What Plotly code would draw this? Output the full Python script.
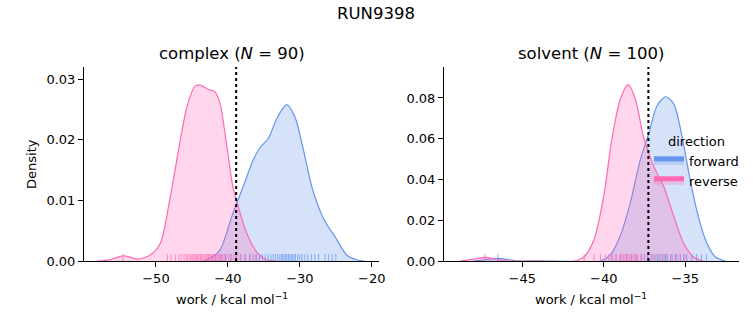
import plotly.graph_objects as go

# ---------------- data ----------------
# complex: KDE curves (x in kcal/mol, density)
complex_rev_x = [-58.2, -56.5, -55.4, -54.5, -53.5, -52.5, -50.8, -49.4, -48.1, -46.7, -45.7,
                 -44.6, -43.9, -42.7, -41.8, -41.1, -40.2, -39.3, -38.3, -37.4, -36.0, -34.6, -33.3]
complex_rev_y = [0.0, 0.0002, 0.0006, 0.00087, 0.0006, 0.0003, 0.001, 0.0029, 0.010, 0.0194, 0.0254,
                 0.0288, 0.0290, 0.0283, 0.0279, 0.0260, 0.0194, 0.0122, 0.0079, 0.0046, 0.0015, 0.0002, 0.0]
complex_fwd_x = [-43.4, -42.3, -41.1, -39.3, -37.9, -36.5, -35.6, -34.4, -33.2, -31.85, -30.7,
                 -29.5, -28.2, -26.5, -25.1, -23.5, -22.1, -21.0]
complex_fwd_y = [0.0, 0.0006, 0.0018, 0.0079, 0.0122, 0.0166, 0.0186, 0.0202, 0.0235, 0.0258, 0.0238,
                 0.0183, 0.0117, 0.0065, 0.0040, 0.0010, 0.0002, 0.0]

# solvent: KDE curves
solvent_rev_x = [-48.8, -48.0, -47.24, -46.6, -45.9, -44.0, -41.8, -41.2, -40.6, -40.0, -39.5, -38.98,
                 -38.5, -38.06, -37.55, -36.94, -36.33, -35.7, -35.1, -34.5, -33.9]
solvent_rev_y = [0.0, 0.0009, 0.0018, 0.0009, 0.0, 0.0, 0.0, 0.0021, 0.0104, 0.0318, 0.0598, 0.0795,
                 0.0866, 0.0795, 0.0606, 0.0466, 0.0367, 0.0219, 0.0087, 0.0021, 0.0]
solvent_fwd_x = [-48.0, -47.2, -46.4, -45.8, -45.3, -43.0, -40.2, -39.6, -39.0, -38.37, -37.75, -37.25,
                 -36.73, -36.2, -35.7, -35.2, -34.7, -34.2, -33.67, -33.16, -32.55]
solvent_fwd_y = [0.0, 0.0007, 0.0013, 0.0006, 0.0, 0.0, 0.0, 0.003, 0.012, 0.0285, 0.0499, 0.0622,
                 0.0762, 0.0806, 0.0770, 0.0614, 0.0400, 0.0219, 0.0087, 0.0021, 0.0]

# rug: individual work values
complex_rev_work = [-54.6, -48.4, -47.9, -47.3, -46.8, -46.5, -46.1, -45.8, -45.6, -45.3, -45.1, -44.9,
                    -44.7, -44.5, -44.3, -44.2, -44.0, -43.8, -43.7, -43.5, -43.3, -43.2, -43.0, -42.8,
                    -42.7, -42.5, -42.3, -42.2, -42.0, -41.8, -41.7, -41.5, -41.3, -41.1, -40.9, -40.7,
                    -40.5, -40.2, -39.9, -39.6, -39.2, -38.8, -38.3, -37.6, -36.9, -36.2, -35.6]
complex_fwd_work = [-41.0, -40.3, -39.6, -38.9, -38.2, -37.6, -37.0, -36.5, -36.0, -35.6, -35.2, -34.8,
                    -34.4, -34.0, -33.7, -33.4, -33.1, -32.8, -32.6, -32.4, -32.2, -32.0, -31.8, -31.6,
                    -31.4, -31.2, -31.0, -30.8, -30.6, -30.3, -30.0, -29.7, -29.3, -28.9, -28.4, -27.9,
                    -27.4, -26.5, -26.0, -25.5, -25.0]
solvent_rev_work = [-47.3, -41.2, -40.6, -40.2, -39.9, -39.7, -39.5, -39.3, -39.2, -39.0, -38.9, -38.8,
                    -38.7, -38.6, -38.5, -38.4, -38.3, -38.2, -38.1, -38.0, -37.9, -37.7, -37.5, -37.3,
                    -37.0, -36.8, -36.5, -36.2, -35.9, -35.6, -35.3, -35.0]
solvent_fwd_work = [-46.5, -39.5, -39.0, -38.6, -38.3, -38.0, -37.7, -37.5, -37.3, -37.1, -36.9, -36.7,
                    -36.6, -36.4, -36.3, -36.2, -36.1, -35.9, -35.8, -35.6, -35.5, -35.3, -35.1, -34.9,
                    -34.6, -34.3, -34.0, -33.7]

# free energy estimate (dotted lines)
complex_dg = -38.85
solvent_dg = -37.26

complex_ticks = [-50, -40, -30, -20]
complex_yticks = [0.00, 0.01, 0.02, 0.03]
solvent_ticks = [-45, -40, -35]
solvent_yticks = [0.00, 0.02, 0.04, 0.06, 0.08]

# ---------------- styling ----------------
FONT = "DejaVu Sans"
BLUE = "#6495ED"
PINK = "#FF69B4"
BLUE_FILL = "rgba(100,149,237,0.27)"
PINK_FILL = "rgba(255,105,180,0.27)"
BLUE_RUG = "rgba(100,149,237,0.7)"
PINK_RUG = "rgba(255,105,180,0.7)"

W, H = 753, 325
def px_x(p): return p / W
def px_y(p): return 1 - p / H

fig = go.Figure()

panels = [
    ("x", "y", complex_fwd_x, complex_fwd_y, complex_rev_x, complex_rev_y,
     complex_fwd_work, complex_rev_work, True),
    ("x2", "y2", solvent_fwd_x, solvent_fwd_y, solvent_rev_x, solvent_rev_y,
     solvent_fwd_work, solvent_rev_work, False),
]
for xa, ya, fx, fy, rx, ry, fw, rw, show in panels:
    fig.add_trace(go.Scatter(x=fx, y=fy, xaxis=xa, yaxis=ya, mode="lines",
                             line=dict(color=BLUE, width=1.2, shape="spline", smoothing=0.8),
                             fill="tozeroy", fillcolor=BLUE_FILL, name="forward",
                             legendgroup="forward", showlegend=show))
    fig.add_trace(go.Scatter(x=rx, y=ry, xaxis=xa, yaxis=ya, mode="lines",
                             line=dict(color=PINK, width=1.2, shape="spline", smoothing=0.8),
                             fill="tozeroy", fillcolor=PINK_FILL, name="reverse",
                             legendgroup="reverse", showlegend=show))
    fig.add_trace(go.Scatter(x=fw, y=[0] * len(fw), xaxis=xa, yaxis=ya, mode="markers",
                             marker=dict(symbol="line-ns", size=10,
                                         line=dict(color=BLUE_RUG, width=1)),
                             showlegend=False, hoverinfo="x"))
    fig.add_trace(go.Scatter(x=rw, y=[0] * len(rw), xaxis=xa, yaxis=ya, mode="markers",
                             marker=dict(symbol="line-ns", size=10,
                                         line=dict(color=PINK_RUG, width=1)),
                             showlegend=False, hoverinfo="x"))

# dotted vertical lines
for xa, ya, v in [("x", "y", complex_dg), ("x2", "y2", solvent_dg)]:
    fig.add_shape(type="line", xref=xa, yref=f"{ya} domain", x0=v, x1=v, y0=0, y1=1,
                  line=dict(color="black", width=2, dash="dot"))

axis_common = dict(showline=True, linecolor="black", linewidth=1, ticks="outside",
                   ticklen=5, tickwidth=1, tickcolor="black", showgrid=False, zeroline=False,
                   mirror=False, automargin=False,
                   tickfont=dict(family=FONT, size=13, color="black"))

fig.update_layout(
    template="none",
    width=W, height=H, margin=dict(l=0, r=0, t=0, b=0, pad=0, autoexpand=False),
    paper_bgcolor="white", plot_bgcolor="white",
    font=dict(family=FONT, size=13, color="black"),
    xaxis=dict(domain=[px_x(84), px_x(379)], range=[-60.0, -19.0], tickvals=complex_ticks,
               anchor="y", **axis_common),
    yaxis=dict(domain=[px_y(261), px_y(67)], range=[0, 0.032], tickvals=complex_yticks,
               tickformat=".2f", anchor="x", **axis_common),
    xaxis2=dict(domain=[px_x(444), px_x(739)], range=[-49.8, -31.7], tickvals=solvent_ticks,
                anchor="y2", **axis_common),
    yaxis2=dict(domain=[px_y(261), px_y(67)], range=[0, 0.0952], tickvals=solvent_yticks,
                tickformat=".2f", anchor="x2", **axis_common),
    showlegend=True,
    legend=dict(title=dict(text="direction", side="top center",
                           font=dict(family=FONT, size=13, color="black")),
                x=px_x(649), y=px_y(129), xanchor="left", yanchor="top",
                bgcolor="rgba(0,0,0,0)", borderwidth=0,
                font=dict(family=FONT, size=13, color="black"),
                itemsizing="constant", tracegroupgap=0),
)

annots = [
    dict(text="RUN9398", x=px_x(376), y=px_y(13), size=16.5),
    dict(text="complex (<i>N</i> = 90)", x=px_x(232), y=px_y(54), size=16.5),
    dict(text="solvent (<i>N</i> = 100)", x=px_x(591), y=px_y(54), size=16.5),
    dict(text="work / kcal mol<sup>−1</sup>", x=px_x(232), y=px_y(299), size=13),
    dict(text="work / kcal mol<sup>−1</sup>", x=px_x(591), y=px_y(299), size=13),
]
for a in annots:
    fig.add_annotation(text=a["text"], x=a["x"], y=a["y"], xref="paper", yref="paper",
                       showarrow=False, xanchor="center", yanchor="middle",
                       font=dict(family=FONT, size=a["size"], color="black"))
fig.add_annotation(text="Density", x=px_x(31), y=px_y(164), xref="paper", yref="paper",
                   showarrow=False, textangle=-90, xanchor="center", yanchor="middle",
                   font=dict(family=FONT, size=13, color="black"))

fig.write_html("out.html")
